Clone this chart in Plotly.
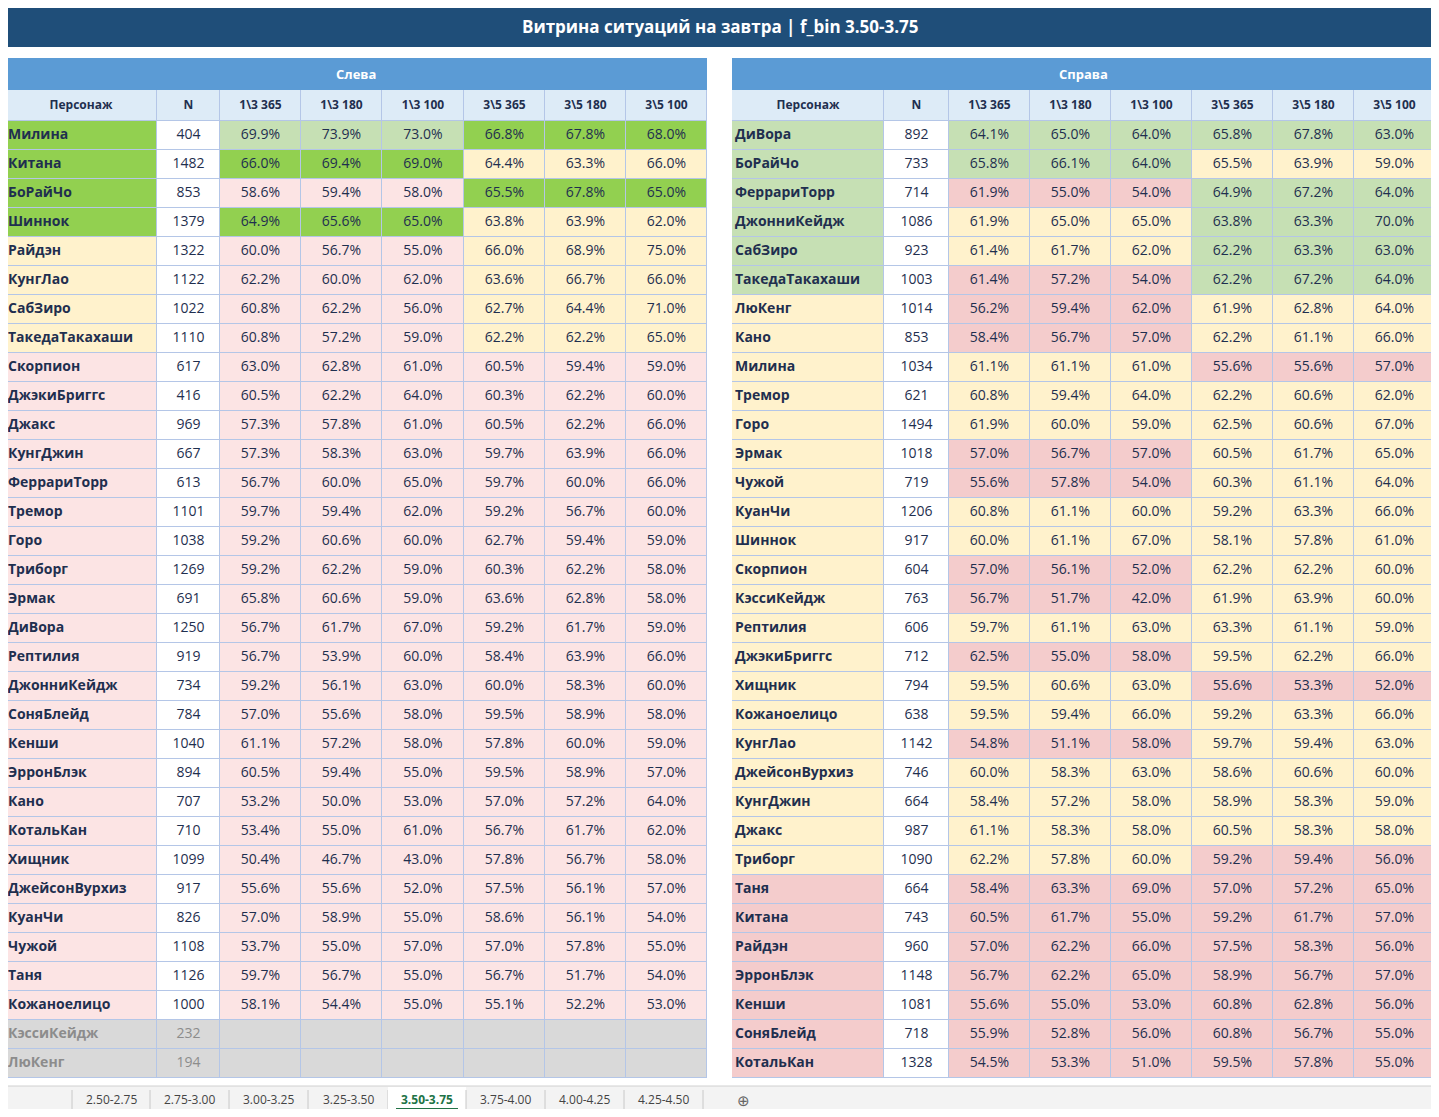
import plotly.graph_objects as go

title = "Витрина ситуаций на завтра | f_bin 3.50-3.75"
cols = ["Персонаж", "N", "1\\3 365", "1\\3 180", "1\\3 100", "3\\5 365", "3\\5 180", "3\\5 100"]

L_names = ["Милина","Китана","БоРайЧо","Шиннок","Райдэн","КунгЛао","СабЗиро","ТакедаТакахаши","Скорпион","ДжэкиБриггс","Джакс","КунгДжин","ФеррариТорр","Тремор","Горо","Триборг","Эрмак","ДиВора","Рептилия","ДжонниКейдж","СоняБлейд","Кенши","ЭрронБлэк","Кано","КотальКан","Хищник","ДжейсонВурхиз","КуанЧи","Чужой","Таня","Кожаноелицо","КэссиКейдж","ЛюКенг"]
L_n = [404,1482,853,1379,1322,1122,1022,1110,617,416,969,667,613,1101,1038,1269,691,1250,919,734,784,1040,894,707,710,1099,917,826,1108,1126,1000,232,194]
L_a365 = [69.9,66.0,58.6,64.9,60.0,62.2,60.8,60.8,63.0,60.5,57.3,57.3,56.7,59.7,59.2,59.2,65.8,56.7,56.7,59.2,57.0,61.1,60.5,53.2,53.4,50.4,55.6,57.0,53.7,59.7,58.1,None,None]
L_a180 = [73.9,69.4,59.4,65.6,56.7,60.0,62.2,57.2,62.8,62.2,57.8,58.3,60.0,59.4,60.6,62.2,60.6,61.7,53.9,56.1,55.6,57.2,59.4,50.0,55.0,46.7,55.6,58.9,55.0,56.7,54.4,None,None]
L_a100 = [73.0,69.0,58.0,65.0,55.0,62.0,56.0,59.0,61.0,64.0,61.0,63.0,65.0,62.0,60.0,59.0,59.0,67.0,60.0,63.0,58.0,58.0,55.0,53.0,61.0,43.0,52.0,55.0,57.0,55.0,55.0,None,None]
L_b365 = [66.8,64.4,65.5,63.8,66.0,63.6,62.7,62.2,60.5,60.3,60.5,59.7,59.7,59.2,62.7,60.3,63.6,59.2,58.4,60.0,59.5,57.8,59.5,57.0,56.7,57.8,57.5,58.6,57.0,56.7,55.1,None,None]
L_b180 = [67.8,63.3,67.8,63.9,68.9,66.7,64.4,62.2,59.4,62.2,62.2,63.9,60.0,56.7,59.4,62.2,62.8,61.7,63.9,58.3,58.9,60.0,58.9,57.2,61.7,56.7,56.1,56.1,57.8,51.7,52.2,None,None]
L_b100 = [68.0,66.0,65.0,62.0,75.0,66.0,71.0,65.0,59.0,60.0,66.0,66.0,66.0,60.0,59.0,58.0,58.0,59.0,66.0,60.0,58.0,59.0,57.0,64.0,62.0,58.0,57.0,54.0,55.0,54.0,53.0,None,None]
L_tier_name = ["G"]*4 + ["Y"]*4 + ["p"]*23 + ["x"]*2
L_tier_a = ["g","G","p","G"] + ["p"]*27 + ["x"]*2
L_tier_b = ["G","Y","G","Y"] + ["Y"]*4 + ["p"]*23 + ["x"]*2

R_names = ["ДиВора","БоРайЧо","ФеррариТорр","ДжонниКейдж","СабЗиро","ТакедаТакахаши","ЛюКенг","Кано","Милина","Тремор","Горо","Эрмак","Чужой","КуанЧи","Шиннок","Скорпион","КэссиКейдж","Рептилия","ДжэкиБриггс","Хищник","Кожаноелицо","КунгЛао","ДжейсонВурхиз","КунгДжин","Джакс","Триборг","Таня","Китана","Райдэн","ЭрронБлэк","Кенши","СоняБлейд","КотальКан"]
R_n = [892,733,714,1086,923,1003,1014,853,1034,621,1494,1018,719,1206,917,604,763,606,712,794,638,1142,746,664,987,1090,664,743,960,1148,1081,718,1328]
R_a365 = [64.1,65.8,61.9,61.9,61.4,61.4,56.2,58.4,61.1,60.8,61.9,57.0,55.6,60.8,60.0,57.0,56.7,59.7,62.5,59.5,59.5,54.8,60.0,58.4,61.1,62.2,58.4,60.5,57.0,56.7,55.6,55.9,54.5]
R_a180 = [65.0,66.1,55.0,65.0,61.7,57.2,59.4,56.7,61.1,59.4,60.0,56.7,57.8,61.1,61.1,56.1,51.7,61.1,55.0,60.6,59.4,51.1,58.3,57.2,58.3,57.8,63.3,61.7,62.2,62.2,55.0,52.8,53.3]
R_a100 = [64.0,64.0,54.0,65.0,62.0,54.0,62.0,57.0,61.0,64.0,59.0,57.0,54.0,60.0,67.0,52.0,42.0,63.0,58.0,63.0,66.0,58.0,63.0,58.0,58.0,60.0,69.0,55.0,66.0,65.0,53.0,56.0,51.0]
R_b365 = [65.8,65.5,64.9,63.8,62.2,62.2,61.9,62.2,55.6,62.2,62.5,60.5,60.3,59.2,58.1,62.2,61.9,63.3,59.5,55.6,59.2,59.7,58.6,58.9,60.5,59.2,57.0,59.2,57.5,58.9,60.8,60.8,59.5]
R_b180 = [67.8,63.9,67.2,63.3,63.3,67.2,62.8,61.1,55.6,60.6,60.6,61.7,61.1,63.3,57.8,62.2,63.9,61.1,62.2,53.3,63.3,59.4,60.6,58.3,58.3,59.4,57.2,61.7,58.3,56.7,62.8,56.7,57.8]
R_b100 = [63.0,59.0,64.0,70.0,63.0,64.0,64.0,66.0,57.0,62.0,67.0,65.0,64.0,66.0,61.0,60.0,60.0,59.0,66.0,52.0,66.0,63.0,60.0,59.0,58.0,56.0,65.0,57.0,56.0,57.0,56.0,55.0,55.0]
R_tier_name = ["g"]*6 + ["Y"]*20 + ["r"]*7
R_tier_a = list("ggrYYrrrYYYrrYYrrYrYYrYYYY") + ["r"]*7
R_tier_b = list("gYggggYYrYYYYYYYYYYrYYYYYr") + ["r"]*7

sheets = ["2.50-2.75","2.75-3.00","3.00-3.25","3.25-3.50","3.50-3.75","3.75-4.00","4.00-4.25","4.25-4.50"]
active = "3.50-3.75"

ORDER = ["G","g","Y","p","r","x","w","h"]
COLS = ["#92D050","#C6E0B4","#FFF2CC","#FCE4E4","#F4CCCC","#D9D9D9","#FFFFFF","#DDEBF7"]
cs = []
for i, c in enumerate(COLS):
    cs += [[i/len(COLS), c], [(i+1)/len(COLS), c]]
TXT = "#1F2F4F"
FONT = "Open Sans"
BORDER = "#B4C6E7"

# geometry (reference pixel coordinates)
Y_EDGES = [90, 121] + [121 + 29*(i+1) for i in range(33)]
L_X = [5, 157, 220, 301, 382, 464, 545, 626, 707]
R_X = [732, 884, 949, 1030, 1111, 1192, 1273, 1354, 1435]

def fmt(v):
    return "" if v is None else f"{v:.1f}%"

fig = go.Figure()

def add_side(names, n, vals, tn, ta, tb, xe, label):
    nrow = len(names)
    z = [[ORDER.index("h")]*8]
    for i in range(nrow):
        row = [ORDER.index(tn[i]), ORDER.index("x" if tn[i] == "x" else "w")]
        row += [ORDER.index(ta[i])]*3 + [ORDER.index(tb[i])]*3
        z.append(row)
    fig.add_shape(type="rect", x0=xe[0], x1=xe[-1], y0=Y_EDGES[0], y1=Y_EDGES[-1],
                  fillcolor=BORDER, line=dict(width=0), layer="below")
    fig.add_trace(go.Heatmap(z=z, x=xe, y=Y_EDGES, colorscale=cs, zmin=0, zmax=len(COLS),
                             showscale=False, xgap=1, ygap=1, hoverinfo="skip"))
    ymid = [(Y_EDGES[i]+Y_EDGES[i+1])/2 for i in range(len(Y_EDGES)-1)]
    xmid = [(xe[i]+xe[i+1])/2 for i in range(8)]
    # header
    fig.add_trace(go.Scatter(x=xmid, y=[ymid[0]]*8, mode="text", text=[f"<b>{c}</b>" for c in cols],
                             textfont=dict(family=FONT, size=12, color=TXT), hoverinfo="skip"))
    colors = ["#8C8C8C" if t == "x" else TXT for t in tn]
    fig.add_trace(go.Scatter(x=[xe[0]+3]*nrow, y=ymid[1:], mode="text", textposition="middle right",
                             text=[f"<b>{s}</b>" for s in names],
                             textfont=dict(family=FONT, size=14, color=colors), hoverinfo="skip"))
    cols_txt = [[str(v) for v in n]] + [[fmt(v) for v in c] for c in vals]
    for j, ct in enumerate(cols_txt):
        fig.add_trace(go.Scatter(x=[xmid[j+1]]*nrow, y=ymid[1:], mode="text", text=ct,
                                 textfont=dict(family=FONT, size=14, color=colors), hoverinfo="skip"))
    fig.add_shape(type="rect", x0=xe[0], x1=xe[-1], y0=58, y1=90, fillcolor="#5B9BD5",
                  line=dict(width=0))
    fig.add_annotation(x=(xe[0]+xe[-1])/2, y=74, text=f"<b>{label}</b>", showarrow=False,
                       font=dict(family=FONT, size=13, color="white"))

add_side(L_names, L_n, [L_a365,L_a180,L_a100,L_b365,L_b180,L_b100], L_tier_name, L_tier_a, L_tier_b, L_X, "Слева")
add_side(R_names, R_n, [R_a365,R_a180,R_a100,R_b365,R_b180,R_b100], R_tier_name, R_tier_a, R_tier_b, R_X, "Справа")

fig.add_shape(type="rect", x0=5, x1=1435, y0=5, y1=47, fillcolor="#1F4E79", line=dict(width=0))
fig.add_annotation(x=720, y=26, text=f"<b>{title}</b>", showarrow=False,
                   font=dict(family=FONT, size=17, color="white"))

# sheet tabs
fig.add_shape(type="rect", x0=0, x1=1440, y0=1086, y1=1112, fillcolor="#F3F3F3",
              line=dict(color="#D0D0D0", width=1), layer="below")
edges = [72, 150, 229, 308, 388, 466, 545, 624, 703]
for i, s in enumerate(sheets):
    a, b = edges[i], edges[i+1]
    if s == active:
        fig.add_shape(type="rect", x0=a, x1=b, y0=1087, y1=1112, fillcolor="white", line=dict(width=0))
        fig.add_shape(type="rect", x0=a+8, x1=b-8, y0=1108, y1=1110, fillcolor="#217346", line=dict(width=0))
        fig.add_annotation(x=(a+b)/2, y=1099, text=f"<b>{s}</b>", showarrow=False,
                           font=dict(family=FONT, size=12, color="#217346"))
    else:
        fig.add_annotation(x=(a+b)/2, y=1099, text=s, showarrow=False,
                           font=dict(family=FONT, size=12, color="#444444"))
    fig.add_shape(type="line", x0=b, x1=b, y0=1090, y1=1110, line=dict(color="#C8C8C8", width=1))
fig.add_shape(type="line", x0=72, x1=72, y0=1090, y1=1110, line=dict(color="#C8C8C8", width=1))
fig.add_annotation(x=743, y=1100, text="⊕", showarrow=False, font=dict(family=FONT, size=15, color="#666666"))

fig.update_layout(width=1423, height=1101, margin=dict(l=0, r=0, t=0, b=0),
                  paper_bgcolor="white", plot_bgcolor="white", showlegend=False,
                  xaxis=dict(range=[8, 1431], visible=False, fixedrange=True),
                  yaxis=dict(range=[1109, 8], visible=False, fixedrange=True))
fig.write_html("out.html")
